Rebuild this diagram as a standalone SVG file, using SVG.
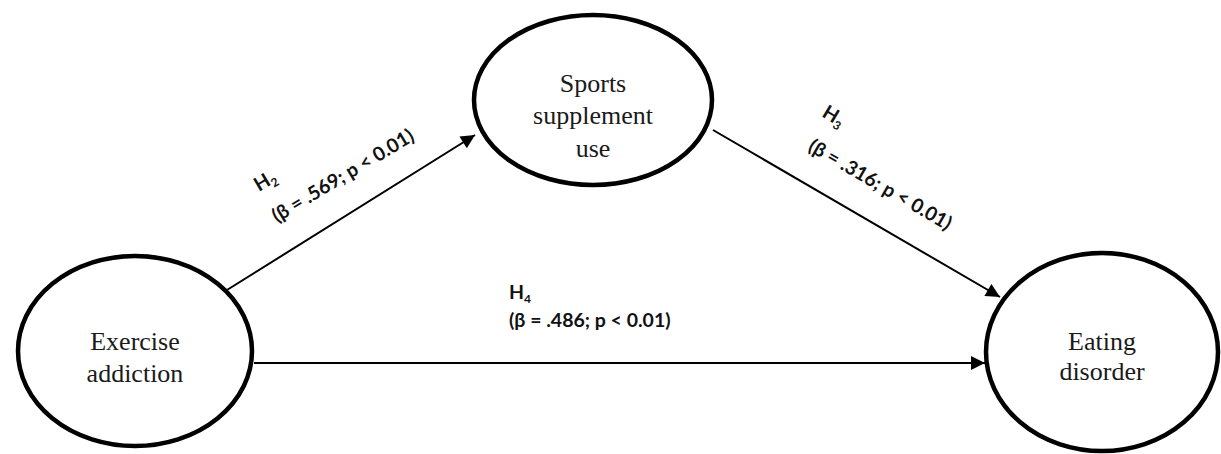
<svg xmlns="http://www.w3.org/2000/svg" width="1221" height="454" viewBox="0 0 1221 454">
  <defs>
    <style>
      .node ellipse { fill: #ffffff; stroke: #000000; stroke-width: 4.5; }
      .node text { font-family: "Liberation Serif", "Times New Roman", serif; font-size: 26px; fill: #1a1a1a; text-anchor: middle; }
      .edge { stroke: #000000; stroke-width: 2; fill: none; marker-end: url(#arrow); }
      .lbl { font-family: Lato, "Liberation Sans", sans-serif; font-weight: 700; font-size: 19.5px; fill: #111111; }
      .sub { font-size: 12px; }
    </style>
    <marker id="arrow" viewBox="0 0 10 10" refX="10" refY="5" markerWidth="8.5" markerHeight="7" markerUnits="strokeWidth" orient="auto">
      <path d="M0,0 L10,5 L0,10 z" fill="#000000"/>
    </marker>
  </defs>
  <rect width="1221" height="454" fill="#ffffff"/>

  <g id="connectors">
    <line class="edge" x1="227" y1="290" x2="475" y2="135"/>
    <line class="edge" x1="713" y1="130" x2="1000" y2="297"/>
    <line class="edge" x1="254" y1="363" x2="985" y2="363"/>
  </g>

  <g id="labels">
    <text class="lbl" transform="translate(259,192) rotate(-31)">H<tspan class="sub" dy="4">2</tspan></text>
    <text class="lbl" transform="translate(277,223) rotate(-31)">(β = .569; p &lt; 0.01)</text>
    <text class="lbl" transform="translate(821,116) rotate(31)">H<tspan class="sub" dy="4">3</tspan></text>
    <text class="lbl" transform="translate(807,150) rotate(30)">(β = .316; p &lt; 0.01)</text>
    <text class="lbl" x="509" y="299">H<tspan class="sub" dy="4">4</tspan></text>
    <text class="lbl" x="509" y="327">(β = .486; p &lt; 0.01)</text>
  </g>

  <g id="exercise-addiction" class="node">
    <ellipse cx="135" cy="351" rx="117" ry="95"/>
    <text x="135" y="350">Exercise</text>
    <text x="135" y="382">addiction</text>
  </g>

  <g id="sports-supplement-use" class="node">
    <ellipse cx="593" cy="100" rx="119" ry="85"/>
    <text x="593" y="92">Sports</text>
    <text x="593" y="124">supplement</text>
    <text x="593" y="157">use</text>
  </g>

  <g id="eating-disorder" class="node">
    <ellipse cx="1102" cy="352" rx="116" ry="99"/>
    <text x="1102" y="350">Eating</text>
    <text x="1102" y="380">disorder</text>
  </g>
</svg>
